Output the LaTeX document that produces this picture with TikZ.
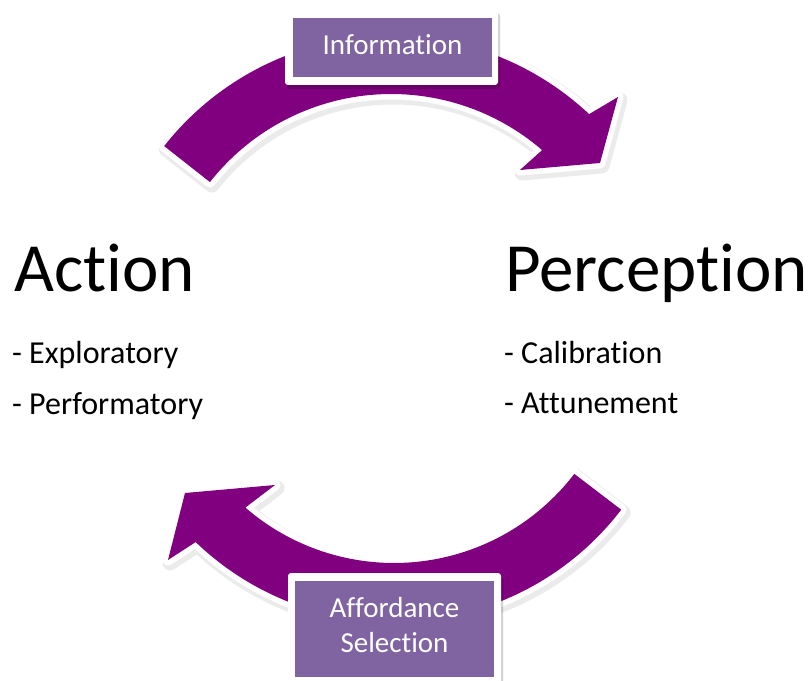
\documentclass[tikz,border=0pt]{standalone}
\usepackage{fontspec}
\setmainfont{Carlito}[Ligatures=NoCommon]
\usetikzlibrary{calc}
\definecolor{arrowpurple}{RGB}{128,0,128}
\definecolor{boxpurple}{RGB}{128,100,162}
\newcommand\toparrowpath{($(C1)+(141.8:289)$) arc[start angle=141.8,end angle=46.8,radius=289] -- (618,583) -- (600,517) -- (520,510) -- ($(C1)+(49.2:230.8)$) arc[start angle=49.2,end angle=141.8,radius=230.8] -- cycle}
\newcommand\botarrowpath{($(C2)+(-37.4:286)$) arc[start angle=-37.4,end angle=-133.9,radius=286] -- (168,120) -- (185,187) -- (275,195) -- ($(C2)+(-130.9:227)$) arc[start angle=-130.9,end angle=-37.4,radius=227] -- cycle}
\tikzset{
  arrowshadow/.style={draw=black, draw opacity=0.08, line width=15pt, line join=round},
  arrowborder/.style={draw=white, fill=white, line width=11pt, line join=round},
  arrowbody/.style={fill=arrowpurple},
  boxshadow/.style={fill=black, fill opacity=0.18, rounded corners=3pt},
  boxframe/.style={fill=white, rounded corners=3pt},
  labelbox/.style={fill=boxpurple, inner sep=0pt, draw=none},
  boxtext/.style={text=white, inner sep=0pt, font=\fontsize{29}{35.4}\selectfont},
  bigtext/.style={text=black, inner sep=0pt, font=\fontsize{69}{80}\selectfont},
  subtext/.style={text=black, inner sep=0pt, font=\fontsize{32}{37}\selectfont}
}
\begin{document}
\begin{tikzpicture}[x=1pt,y=1pt]
\useasboundingbox (0,0) rectangle (808,680);
\fill[white] (0,0) rectangle (808,680);
\coordinate (C1) at (391.3,355.2);
\coordinate (C2) at (394,344);
% arrow shadows
\begin{scope}[transform canvas={shift={(2pt,-3pt)}}]
  \draw[arrowshadow] \toparrowpath;
  \draw[arrowshadow] \botarrowpath;
\end{scope}
% white borders
\draw[arrowborder] \toparrowpath;
\draw[arrowborder] \botarrowpath;
% purple bodies
\fill[arrowbody] \toparrowpath;
\fill[arrowbody] \botarrowpath;
% Information box
\fill[boxshadow] (287,591) rectangle (500,667);
\fill[boxframe] (285,595) rectangle (498,670);
\node[labelbox, minimum width=199pt, minimum height=59pt] (infobox) at (392.5,632.5) {};
\node[boxtext, anchor=base] (infotext) at (392.5,625) {Information};
% Affordance box
\fill[boxshadow] (290,-10) rectangle (503,103);
\fill[boxframe] (288,-10) rectangle (501,107);
\node[labelbox, minimum width=199pt, minimum height=96pt] (affbox) at (394.5,51) {};
\node[boxtext, align=center] (afftext) at (394.5,55) {Affordance\\Selection};
% texts
\node[bigtext, anchor=base west] (action) at (14,388.3) {Action};
\node[subtext, anchor=base west] (expl) at (12,316.5) {- Exploratory};
\node[bigtext, anchor=base west] (perception) at (505,388.3) {Perception};
\node[subtext, anchor=base west] (perf) at (12,265.7) {- Performatory};
\node[subtext, anchor=base west] (calib) at (504,316) {- Calibration};
\node[subtext, anchor=base west] (attun) at (504,266) {- Attunement};
\end{tikzpicture}
\end{document}
